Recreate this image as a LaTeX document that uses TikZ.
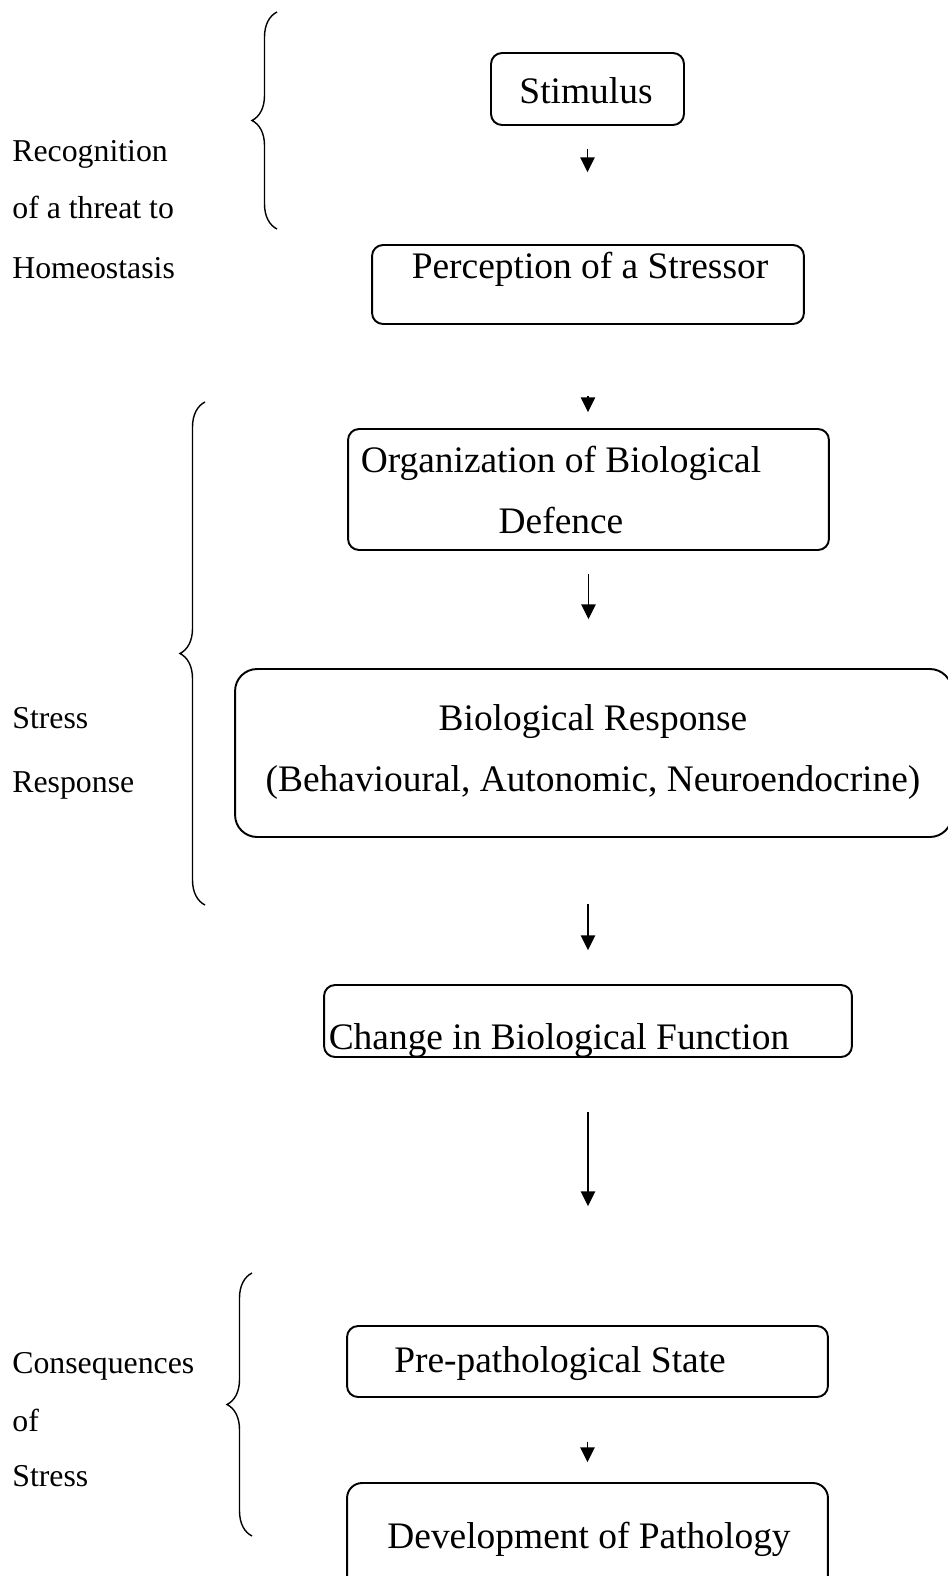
\documentclass[tikz,border=0pt]{standalone}
\usepackage{fontspec}
\setmainfont{Liberation Serif}
\usetikzlibrary{arrows.meta,decorations.pathreplacing}

\begin{document}
\begin{tikzpicture}[x=0.02cm,y=-0.02cm,
    box/.style={draw,line width=1.1pt,rounded corners=0.22cm,inner sep=0pt},
    bigtxt/.style={inner sep=0pt,align=center,font=\fontsize{21.3}{35}\selectfont},
    sidetxt/.style={inner sep=0pt,anchor=west,font=\fontsize{18.1}{22}\selectfont},
    arr/.style={-{Triangle[length=8.4pt,width=8.2pt]},line width=0.8pt},
    curly/.style={decorate,decoration={brace,amplitude=0.5cm},line width=0.8pt}]
    \useasboundingbox (0,0) rectangle (947,1576);
    % boxes
    \node[box,minimum width=3.86cm,minimum height=1.44cm] (stim) at (587.5,89) {};
    \node[box,minimum width=8.64cm,minimum height=1.58cm] (percep) at (588,284.5) {};
    \node[box,minimum width=9.62cm,minimum height=2.42cm] (org) at (588.5,489.5) {};
    \node[box,minimum width=14.34cm,minimum height=3.36cm,rounded corners=0.44cm] (bio) at (593.5,753) {};
    \node[box,minimum width=10.56cm,minimum height=1.44cm] (change) at (588,1021) {};
    \node[box,minimum width=9.62cm,minimum height=1.42cm] (pre) at (587.5,1361.5) {};
    \node[box,minimum width=9.62cm,minimum height=2.14cm,rounded corners=0.3cm] (dev) at (587.5,1536.5) {};
    % box texts
    \node[bigtxt] (stimtxt) at (586,91) {Stimulus};
    \node[bigtxt] (perceptxt) at (590,269) {Perception of a Stressor};
    \node[bigtxt] (orgtxt) at (561,490) {Organization of Biological\\Defence};
    \node[bigtxt] (biotxt) at (593,752) {Biological Response\\(Behavioural, Autonomic, Neuroendocrine)};
    \node[bigtxt] (changetxt) at (559,1041) {Change in Biological Function};
    \node[bigtxt] (pretxt) at (560,1364) {Pre-pathological State};
    \node[bigtxt] (devtxt) at (589,1539) {Development of Pathology};
    % arrows
    \draw[arr,shorten <=0.46cm,shorten >=1.44cm] (stim.south) -- (stim.south |- percep.north);
    \draw[arr,shorten <=1.42cm,shorten >=0.32cm] (percep.south) -- (percep.south |- org.north);
    \draw[arr,shorten <=0.46cm,shorten >=0.98cm] (org.south) -- (org.south |- bio.north);
    \draw[arr,shorten <=1.32cm,shorten >=0.68cm] (change.north |- bio.south) -- (change.north);
    \draw[arr,shorten <=1.08cm,shorten >=2.38cm] (change.south) -- (change.south |- pre.north);
    \draw[arr,shorten <=0.88cm,shorten >=0.40cm] (pre.south) -- (dev.north);
    % side labels
    \node[sidetxt] (rec1) at (12,154) {Recognition};
    \node[sidetxt] (rec2) at (12,207) {of a threat to};
    \node[sidetxt] (rec3) at (12,268) {Homeostasis};
    \node[sidetxt] (resp1) at (12,718) {Stress};
    \node[sidetxt] (resp2) at (12,785) {Response};
    \node[sidetxt] (cons1) at (12,1366) {Consequences};
    \node[sidetxt] (cons2) at (12,1420) {of};
    \node[sidetxt] (cons3) at (12,1476) {Stress};
    % braces
    \draw[curly] (277,229) -- (277,12);
    \draw[curly] (205,905) -- (205,402);
    \draw[curly] (252,1536) -- (252,1273);
\end{tikzpicture}
\end{document}
